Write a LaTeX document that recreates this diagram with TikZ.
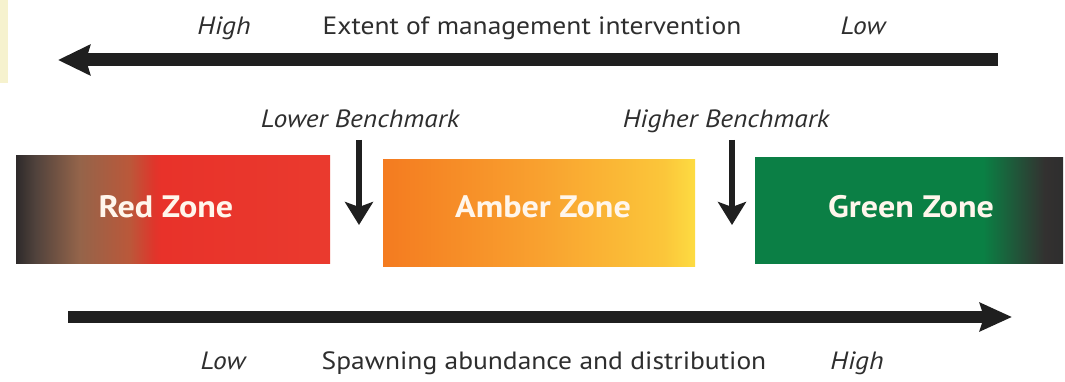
\documentclass[tikz,border=0pt]{standalone}
\usepackage{fontspec}
\usepackage{graphicx}
\setmainfont{PT Sans}
\usetikzlibrary{arrows.meta}
\newcommand\hsc[1]{\scalebox{1.1}[1]{#1}}
\newcommand\hsz[1]{\scalebox{1.1}[1]{#1}}
\definecolor{txt}{HTML}{2E2E2E}
\definecolor{zonetxt}{HTML}{FFF6EC}
\definecolor{stripcol}{HTML}{F6F2CE}
\pgfdeclarehorizontalshading{redz}{100bp}{color(0bp)=({rgb,255:red,46;green,42;blue,42});
  color(25bp)=({rgb,255:red,46;green,42;blue,42});
  color(28bp)=({rgb,255:red,80;green,66;blue,60});
  color(35bp)=({rgb,255:red,148;green,100;blue,74});
  color(43bp)=({rgb,255:red,186;green,88;blue,58});
  color(47bp)=({rgb,255:red,224;green,53;blue,43});
  color(48bp)=({rgb,255:red,232;green,50;blue,42});
  color(75bp)=({rgb,255:red,234;green,58;blue,46});
  color(100bp)=({rgb,255:red,234;green,58;blue,46})}
\pgfdeclarehorizontalshading{amberz}{100bp}{color(0bp)=({rgb,255:red,244;green,123;blue,32});
  color(25bp)=({rgb,255:red,244;green,123;blue,32});
  color(50bp)=({rgb,255:red,249;green,161;blue,47});
  color(70bp)=({rgb,255:red,251;green,198;blue,58});
  color(75bp)=({rgb,255:red,253;green,220;blue,66});
  color(100bp)=({rgb,255:red,253;green,220;blue,66})}
\pgfdeclarehorizontalshading{greenz}{100bp}{color(0bp)=({rgb,255:red,11;green,127;blue,69});
  color(25bp)=({rgb,255:red,11;green,127;blue,69});
  color(62bp)=({rgb,255:red,10;green,128;blue,68});
  color(72bp)=({rgb,255:red,51;green,49;blue,48});
  color(75bp)=({rgb,255:red,46;green,46;blue,46});
  color(100bp)=({rgb,255:red,46;green,46;blue,46})}
\tikzset{
  lbl/.style={font=\fontsize{25}{30}\selectfont, text=txt, inner sep=0pt, anchor=base},
  ilbl/.style={lbl, font=\fontsize{25}{30}\selectfont\itshape},
  zlbl/.style={font=\fontsize{31}{36}\selectfont\bfseries, text=zonetxt, inner sep=0pt, anchor=base},
  zone/.style={rectangle, draw=none, inner sep=0pt, anchor=north west},
  bigarrow/.style={line width=13pt, draw=black!88, -{Stealth[length=32pt,width=30pt,inset=4pt]}},
  bencharrow/.style={line width=6pt, draw=black!88, -{Stealth[length=23pt,width=28pt,inset=5pt]}}
}
\begin{document}
\begin{tikzpicture}[x=1pt,y=-1pt]
\useasboundingbox (0,0) rectangle (1065,382);
\fill[white] (0,0) rectangle (1065,382);
\fill[stripcol] (0,0) rectangle (8,83);
% top axis
\node[ilbl] (tophigh) at (224,35) {\hsc{High}};
\node[lbl] (toptitle) at (532,35) {\hsc{Extent of management intervention}};
\node[ilbl] (toplow) at (863,35) {\hsc{Low}};
\coordinate (topR) at (998,60);
\coordinate (topL) at (58,60);
\draw[bigarrow] (topR) -- (topL);
% benchmarks
\node[ilbl] (lowbm) at (360,128) {\hsc{Lower Benchmark}};
\node[ilbl] (highbm) at (726,128) {\hsc{Higher Benchmark}};
\coordinate (lbTop) at (359,140);
\coordinate (lbTip) at (359,225);
\coordinate (hbTop) at (732,140);
\coordinate (hbTip) at (732,225);
\draw[bencharrow] (lbTop) -- (lbTip);
\draw[bencharrow] (hbTop) -- (hbTip);
% zones
\node[zone, shading=redz, minimum width=314pt, minimum height=108pt] (red) at (16,155) {};
\node[zone, shading=amberz, minimum width=312pt, minimum height=107pt] (amber) at (383,159) {};
\node[zone, shading=greenz, minimum width=308pt, minimum height=106pt] (green) at (755,157) {};
\node[zlbl] (redlbl) at (166,218) {\hsz{Red Zone}};
\node[zlbl] (amberlbl) at (543,218) {\hsz{Amber Zone}};
\node[zlbl] (greenlbl) at (911,218) {\hsz{Green Zone}};
% bottom axis
\coordinate (botL) at (68,317);
\coordinate (botR) at (1012,317);
\draw[bigarrow, line width=12pt, -{Stealth[length=32pt,width=28pt,inset=4pt]}] (botL) -- (botR);
\node[ilbl] (botlow) at (223,369) {\hsc{Low}};
\node[lbl] (bottitle) at (544,369) {\hsc{Spawning abundance and distribution}};
\node[ilbl] (bothigh) at (857,369) {\hsc{High}};
\end{tikzpicture}
\end{document}
